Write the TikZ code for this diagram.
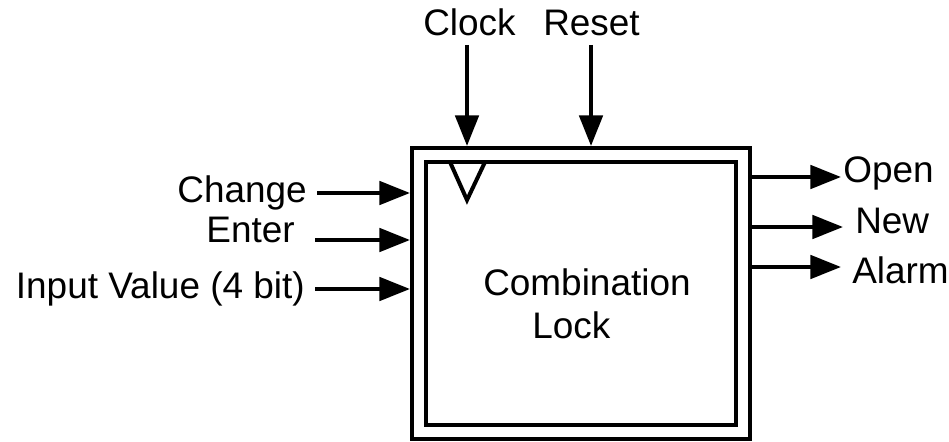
\documentclass[tikz,border=0pt]{standalone}
\usepackage{fontspec}
\setmainfont{Liberation Sans}
\usetikzlibrary{positioning,arrows.meta,calc}

\begin{document}
\begin{tikzpicture}[
        x=0.75pt, y=-0.75pt,
        lbl/.style={inner sep=0pt, font=\fontsize{27.7}{31}\selectfont},
        blk/.style={rectangle, draw, line width=3pt, double, double distance=7.5pt,
            minimum width=243pt, minimum height=207.75pt, inner sep=0pt, outer sep=6.75pt},
        arr/.style={-{Triangle[length=23pt, width=17.5pt]}, line width=3pt},
    ]
    \useasboundingbox (0,0) rectangle (949,442);

    % ----- Lock block -----
    \node[blk] (lock) at (581,293.5) {};
    \node[lbl, anchor=base west] (combo) at (483,295) {Combination};
    \node[lbl, anchor=base west] (locktxt) at (532,338) {Lock};

    % clock triangle
    \draw[line width=3pt, line join=miter] (450,162) -- (467,200) -- (485,162);

    % ----- Top inputs -----
    \node[lbl, anchor=base west] (clock) at (423,36) {Clock};
    \node[lbl, anchor=base west] (reset) at (543,36) {Reset};
    \coordinate (clk-in) at (467,45);
    \coordinate (rst-in) at (591,45);
    \draw[arr] (clk-in) -- (clk-in |- lock.north);
    \draw[arr] (rst-in) -- (rst-in |- lock.north);

    % ----- Left inputs -----
    \node[lbl, anchor=base east] (change) at (307,202) {Change};
    \node[lbl, anchor=base east] (enter) at (295,242) {Enter};
    \node[lbl, anchor=base east] (value) at (305,298) {Input Value (4 bit)};
    \coordinate (chg-in) at (317,193);
    \coordinate (ent-in) at (315,240);
    \coordinate (val-in) at (315,289);
    \draw[arr] (chg-in) -- (chg-in -| lock.west);
    \draw[arr] (ent-in) -- (ent-in -| lock.west);
    \draw[arr] (val-in) -- (val-in -| lock.west);

    % ----- Right outputs -----
    \node[lbl, anchor=base west] (open) at (843,183) {Open};
    \node[lbl, anchor=base west] (new) at (855,233) {New};
    \node[lbl, anchor=base west] (alarm) at (852,283) {Alarm};
    \coordinate (opn-out) at (841,177);
    \coordinate (new-out) at (843,227);
    \coordinate (alm-out) at (841,267);
    \draw[arr] (opn-out -| lock.east) -- (opn-out);
    \draw[arr] (new-out -| lock.east) -- (new-out);
    \draw[arr] (alm-out -| lock.east) -- (alm-out);

\end{tikzpicture}
\end{document}
